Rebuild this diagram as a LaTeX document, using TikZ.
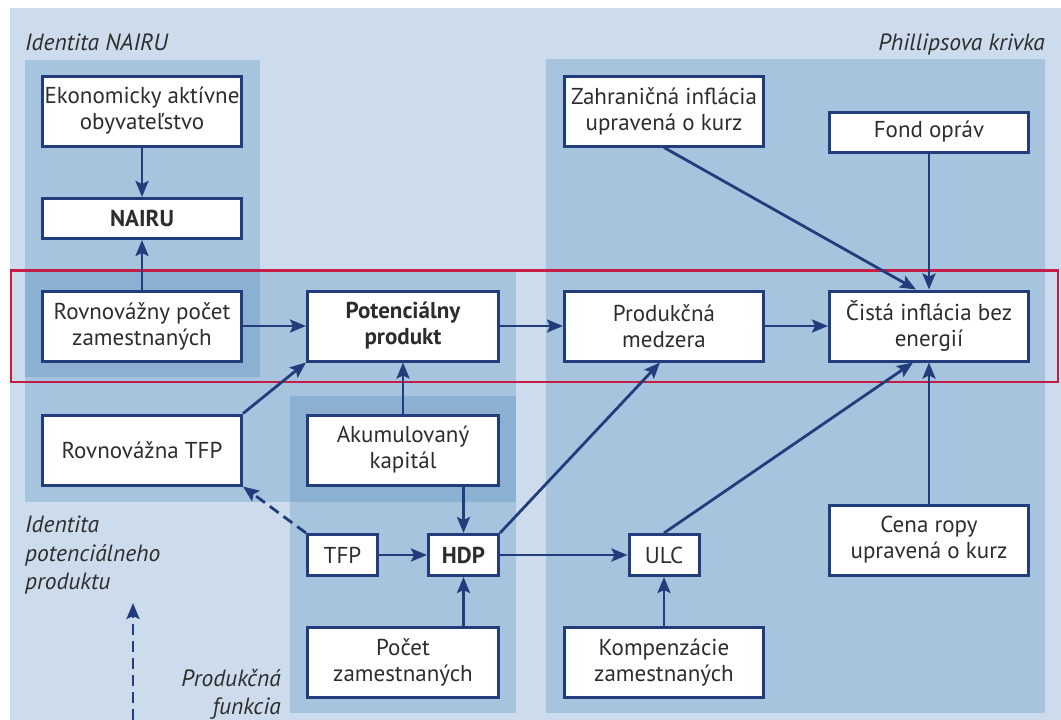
\documentclass[tikz,border=0pt]{standalone}
\usepackage{fontspec}
\setmainfont{PT Sans}
\usetikzlibrary{arrows.meta}
\definecolor{bgA}{RGB}{204,220,236}
\definecolor{bgB}{RGB}{167,196,222}
\definecolor{bgC}{RGB}{139,176,210}
\definecolor{dblue}{RGB}{33,61,124}
\definecolor{redc}{RGB}{196,30,70}
\definecolor{txt}{RGB}{45,45,45}
\begin{document}
\begin{tikzpicture}[x=1pt,y=-1pt,
  box/.style={draw=dblue, line width=3pt, fill=white, align=center, inner sep=0pt,
    text=txt, font=\fontsize{23}{26}\selectfont, minimum width=199pt, minimum height=70pt},
  narrow/.style={minimum width=191pt},
  small/.style={minimum width=70pt, minimum height=41pt},
  flat/.style={minimum height=40pt},
  bfbox/.style={font=\fontsize{23}{26}\selectfont\bfseries},
  arr/.style={draw=dblue, line width=2.8pt, -{Stealth[length=16pt,width=13pt,inset=3pt]}},
  dashline/.style={dash pattern=on 11pt off 6pt},
  lbl/.style={text=txt, font=\fontsize{23.5}{28.5}\selectfont\itshape, inner sep=0pt}
]
\useasboundingbox (0,0) rectangle (1061,720);
\fill[white] (0,0) rectangle (1061,720);
% backgrounds
\fill[bgA] (10,8) rectangle (1061,720);
\fill[bgB] (25,60) rectangle (260,377);
\fill[bgB] (25,271) rectangle (516,502);
\fill[bgB] (290,396) rectangle (516,713);
\fill[bgB] (546,59) rectangle (1045,713);
\fill[bgC] (25,271) rectangle (260,377);
\fill[bgC] (290,396) rectangle (516,502);
% red frame
\draw[redc, line width=2.4pt] (11,270.5) rectangle (1058,382);
% labels
\node[lbl, anchor=base west] (lnairu) at (25,50) {Identita NAIRU};
\node[lbl, anchor=base east] (lphil) at (1045,50) {Phillipsova krivka};
\node[lbl, anchor=north west, align=left] (lpot) at (25,516) {Identita\\potenciálneho\\produktu};
\node[lbl, anchor=north east, align=right] (lprod) at (281,669) {Produkčná\\funkcia};
% boxes
\node[box] (eko) at (142,111) {Ekonomicky aktívne\\obyvateľstvo};
\node[box, flat, bfbox] (nairu) at (142,218.5) {NAIRU};
\node[box] (rpz) at (142,326) {Rovnovážny počet\\zamestnaných};
\node[box, narrow, bfbox] (pot) at (403,326) {Potenciálny\\produkt};
\node[box] (med) at (664,326) {Produkčná\\medzera};
\node[box] (cista) at (929,326) {Čistá inflácia bez\\energií};
\node[box] (zahr) at (664,111) {Zahraničná inflácia\\upravená o kurz};
\node[box, flat] (fond) at (929,132) {Fond opráv};
\node[box] (rtfp) at (142,450) {Rovnovážna TFP};
\node[box, narrow] (akum) at (403,450) {Akumulovaný\\kapitál};
\node[box, small] (tfp) at (342.5,555) {TFP};
\node[box, small, bfbox] (hdp) at (463.5,555) {HDP};
\node[box, narrow] (pocet) at (403,662.5) {Počet\\zamestnaných};
\node[box, small] (ulc) at (664,555) {ULC};
\node[box] (cena) at (929,540) {Cena ropy\\upravená o kurz};
\node[box] (komp) at (664,662.5) {Kompenzácie\\zamestnaných};
% connectors
\draw[arr] (eko) -- (nairu);
\draw[arr] (rpz) -- (nairu);
\draw[arr] (rpz) -- (pot);
\draw[arr] (pot) -- (med);
\draw[arr] (med) -- (cista);
\draw[arr] (zahr.south) -- ([xshift=-13pt]cista.north);
\draw[arr] (fond) -- (cista);
\draw[arr] (rtfp.north east) -- (pot.south west);
\draw[arr] (akum) -- (pot);
\draw[arr] (akum.south -| hdp.north) -- (hdp.north);
\draw[arr] (tfp) -- (hdp);
\draw[arr] (pocet.north -| hdp.south) -- (hdp.south);
\draw[arr, dashline] (tfp.north west) -- (rtfp.south east);
\draw[arr] (hdp.north east) -- ([xshift=-4pt]med.south);
\draw[arr] (hdp) -- (ulc);
\draw[arr] (ulc.north) -- ([xshift=-16pt]cista.south);
\draw[arr] (cena) -- (cista);
\draw[arr] (komp) -- (ulc);
\coordinate (d1) at (133,720);
\coordinate (d2) at (133,603);
\draw[arr, dashline] (d1) -- (d2);
\end{tikzpicture}
\end{document}
